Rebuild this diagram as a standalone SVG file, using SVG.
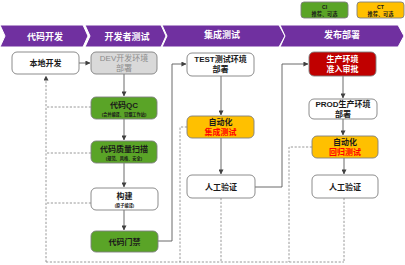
<svg xmlns="http://www.w3.org/2000/svg" width="405" height="265" viewBox="0 0 405 265">
<defs>
<style>
text{font-family:"Liberation Sans","Noto Sans CJK SC",sans-serif;font-weight:bold;text-anchor:middle}
.band{fill:#7030a0;stroke:#fff;stroke-width:1}
.bt{fill:#fff;font-size:9px}
.n{stroke:#7f7f7f;stroke-width:0.9}
.w{fill:#fff}
.g{fill:#5aa427}
.o{fill:#ffc000}
.r{fill:#c00000}
.gr{fill:#d9d9d9}
.t{font-size:8px;fill:#1a1a1a}
.s{font-size:4.2px;fill:#1a1a1a}
.lg{font-size:5.2px;fill:#1a1a1a}
.solid{fill:none;stroke:#595959;stroke-width:0.9}
.dash{fill:none;stroke:#8c8c8c;stroke-width:0.9;stroke-dasharray:2.2,1.6}
</style>
<marker id="ah" viewBox="0 0 6 6" refX="5.5" refY="3" markerWidth="5" markerHeight="5" orient="auto" markerUnits="userSpaceOnUse">
<path d="M0,0 L6,3 L0,6 Z" fill="#404040"/>
</marker>
</defs>

<g id="legend">
<rect x="301" y="2" width="47" height="16" rx="3" class="n g"/>
<text x="324.5" y="8.5" class="lg">CI</text>
<text x="324.5" y="15.5" class="lg">推荐、可选</text>
<rect x="357" y="2" width="47" height="16" rx="3" class="n o"/>
<text x="380.5" y="8.5" class="lg">CT</text>
<text x="380.5" y="15.5" class="lg">推荐、可选</text>
</g>

<g id="stages">
<path class="band" d="M0,25 L83,25 L88,36 L83,47 L0,47 L5,36 Z"/>
<path class="band" d="M85,25 L161,25 L166,36 L161,47 L85,47 L90,36 Z"/>
<path class="band" d="M162,25 L279,25 L285,36 L279,47 L162,47 L167,36 Z"/>
<path class="band" d="M280,25 L398,25 L404,36 L398,47 L280,47 L285,36 Z"/>
<text x="45" y="40" class="bt">代码开发</text>
<text x="127" y="40" class="bt">开发者测试</text>
<text x="222" y="38" class="bt">集成测试</text>
<text x="342" y="38" class="bt">发布部署</text>
</g>

<g id="connectors">
<path class="solid" d="M79,63 L90,63" marker-end="url(#ah)"/>
<path class="solid" d="M124,74 L124,96" marker-end="url(#ah)"/>
<path class="solid" d="M124,119 L124,140" marker-end="url(#ah)"/>
<path class="solid" d="M124,163 L124,187" marker-end="url(#ah)"/>
<path class="solid" d="M124,210 L124,230" marker-end="url(#ah)"/>
<path class="solid" d="M158,241 L172,241 L172,64 L186,64" marker-end="url(#ah)"/>
<path class="solid" d="M221,76 L221,115" marker-end="url(#ah)"/>
<path class="solid" d="M221,138 L221,174" marker-end="url(#ah)"/>
<path class="solid" d="M255,187 L282,187 L282,64 L308,64" marker-end="url(#ah)"/>
<path class="solid" d="M343,76 L343,98" marker-end="url(#ah)"/>
<path class="solid" d="M343,119 L343,135" marker-end="url(#ah)"/>
<path class="solid" d="M344,158 L344,174" marker-end="url(#ah)"/>
<path class="dash" d="M46,262 L46,76" marker-end="url(#ah)"/>
<path class="dash" d="M91,107 L46,107"/>
<path class="dash" d="M91,153 L46,153"/>
<path class="dash" d="M91,203 L46,203"/>
<path class="dash" d="M46,262 L344,262"/>
<path class="dash" d="M187,127 L180,127 L180,262"/>
<path class="dash" d="M221,198 L221,262"/>
<path class="dash" d="M312,147 L289,147 L289,262"/>
<path class="dash" d="M344,198 L344,262"/>
</g>

<g id="n-local">
<rect x="12" y="52" width="67" height="22" rx="5" class="n w"/>
<text x="45.5" y="66" class="t">本地开发</text>
</g>
<g id="n-dev">
<rect x="91" y="52" width="66" height="22" rx="5" class="n gr"/>
<text x="124" y="61" class="t" style="fill:#8c8c8c;font-weight:normal">DEV开发环境</text>
<text x="124" y="71" class="t" style="fill:#8c8c8c;font-weight:normal">部署</text>
</g>
<g id="n-qc">
<rect x="91" y="97" width="66" height="22" rx="5" class="n g"/>
<text x="124" y="108" class="t">代码QC</text>
<text x="124" y="115.5" class="s">(合并编译、冒烟工作站)</text>
</g>
<g id="n-scan">
<rect x="91" y="141" width="66" height="22" rx="5" class="n g"/>
<text x="124" y="152" class="t">代码质量扫描</text>
<text x="124" y="159.5" class="s">(规范、风格、安全)</text>
</g>
<g id="n-build">
<rect x="91" y="188" width="67" height="22" rx="5" class="n w"/>
<text x="124.5" y="199" class="t">构建</text>
<text x="124.5" y="206.5" class="s">(原子编译)</text>
</g>
<g id="n-gate">
<rect x="91" y="231" width="67" height="21" rx="5" class="n g"/>
<text x="124.5" y="244.5" class="t">代码门禁</text>
</g>
<g id="n-test">
<rect x="187" y="53" width="67" height="23" rx="5" class="n w"/>
<text x="220.5" y="62" class="t">TEST测试环境</text>
<text x="220.5" y="72" class="t">部署</text>
</g>
<g id="n-ait">
<rect x="187" y="116" width="67" height="22" rx="5" class="n o"/>
<text x="220.5" y="125" class="t">自动化</text>
<text x="220.5" y="135" class="t" style="fill:#ff0000">集成测试</text>
</g>
<g id="n-manual1">
<rect x="187" y="175" width="68" height="23" rx="5" class="n w"/>
<text x="221" y="189.5" class="t">人工验证</text>
</g>
<g id="n-approve">
<rect x="309" y="52" width="67" height="24" rx="5" class="n r"/>
<text x="342.5" y="62" class="t" style="fill:#fff">生产环境</text>
<text x="342.5" y="72" class="t" style="fill:#fff">准入审批</text>
</g>
<g id="n-prod">
<rect x="309" y="99" width="68" height="20" rx="5" class="n w"/>
<text x="343" y="107" class="t">PROD生产环境</text>
<text x="343" y="116.5" class="t">部署</text>
</g>
<g id="n-art">
<rect x="312" y="136" width="66" height="22" rx="5" class="n o"/>
<text x="345" y="145" class="t">自动化</text>
<text x="345" y="155" class="t" style="fill:#ff0000">回归测试</text>
</g>
<g id="n-manual2">
<rect x="312" y="175" width="66" height="23" rx="5" class="n w"/>
<text x="345" y="189.5" class="t">人工验证</text>
</g>
</svg>
